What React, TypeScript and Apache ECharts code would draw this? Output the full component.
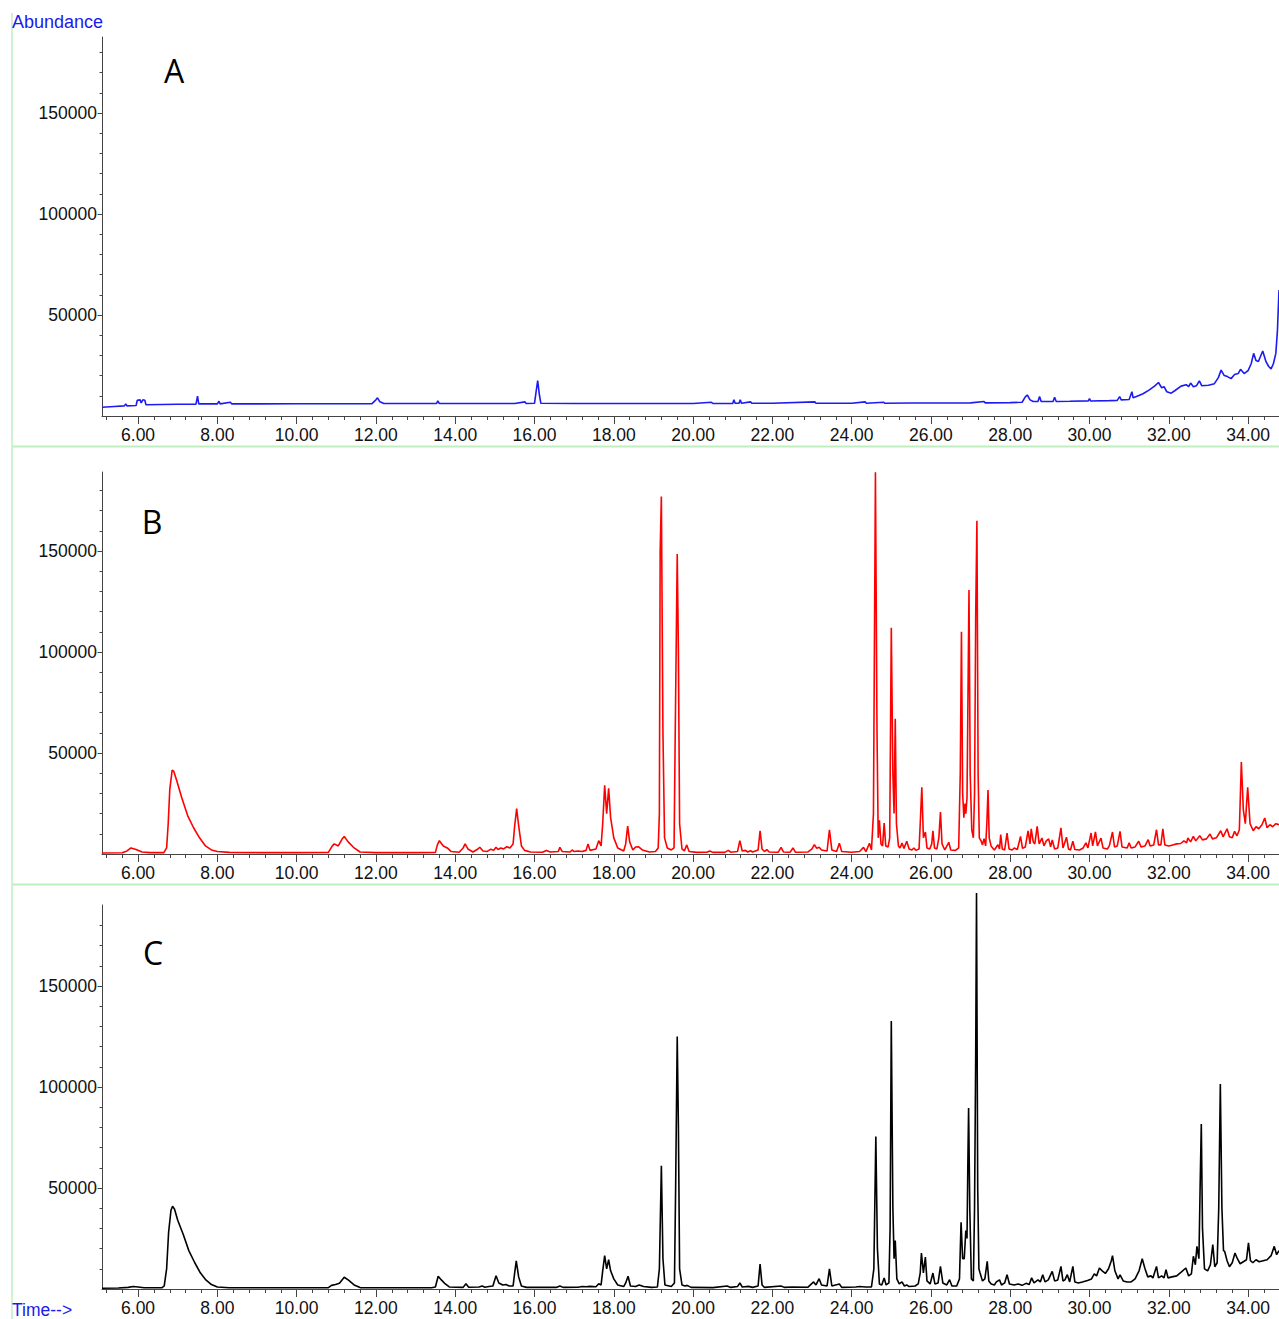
import React, { useEffect, useRef } from 'react';
import * as echarts from 'echarts';

// ---------- axis ticks / labels ----------
const xMin = 5.09;
const xMax = 34.78;
const xMajorTicks = [6, 8, 10, 12, 14, 16, 18, 20, 22, 24, 26, 28, 30, 32, 34];
const xMinorTicks = Array.from({ length: 74 }, (_, i) => Math.round((5.2 + i * 0.4) * 100) / 100).filter((v) => v <= 34.5);
const yMajorTicks = [50000, 100000, 150000];
const yMinorTicks = [10000, 20000, 30000, 40000, 50000, 60000, 70000, 80000, 90000, 100000, 110000, 120000, 130000, 140000, 150000, 160000, 170000, 180000];
const yMaxByPanel = [187600, 189100, 190100];
const panelLetters = ['A', 'B', 'C'];
const panelColors = ['#1c1cf2', '#ff0000', '#000000'];
const yTitle = 'Abundance';
const xTitle = 'Time-->';

// ---------- chromatogram A ----------
const traceA: [number, number][] = [
  [5.09, 4300], [5.4, 4700], [5.65, 5000], [5.69, 6000], [5.72, 5000], [5.95, 5200], [5.98, 7800], [6.05, 8000],
  [6.08, 6500], [6.12, 8000], [6.17, 7800], [6.2, 5600], [6.6, 5700], [7.0, 5800], [7.46, 5900], [7.5, 9800],
  [7.53, 6000], [8.0, 6000], [8.04, 7300], [8.07, 6000], [8.33, 6800], [8.36, 6000], [9.0, 6000], [10.0, 6100],
  [11.0, 6100], [11.9, 6100], [12.0, 8000], [12.04, 9000], [12.1, 7000], [12.2, 6200], [13.0, 6200], [13.53, 6200],
  [13.56, 7500], [13.6, 6200], [14.5, 6200], [15.5, 6200], [15.76, 7000], [15.79, 6200], [16.0, 6300], [16.04, 12000],
  [16.08, 17500], [16.12, 11000], [16.16, 6300], [17.0, 6200], [18.0, 6200], [19.0, 6200], [20.0, 6200], [20.46, 6800],
  [20.5, 6200], [21.0, 6200], [21.03, 8000], [21.06, 6300], [21.16, 6300], [21.19, 8000], [21.22, 6300], [21.45, 7000],
  [21.48, 6300], [22.0, 6300], [23.07, 7000], [23.1, 6300], [24.0, 6300], [24.34, 7000], [24.37, 6300], [24.81, 6800],
  [24.84, 6300], [25.5, 6400], [26.0, 6400], [27.0, 6500], [27.34, 7200], [27.37, 6500], [28.0, 6600], [28.3, 6800],
  [28.38, 9500], [28.43, 10400], [28.5, 8000], [28.58, 7200], [28.7, 7200], [28.74, 9700], [28.78, 7200], [29.08, 7200],
  [29.12, 9300], [29.16, 7200], [29.5, 7300], [29.97, 7500], [30.0, 8600], [30.03, 7400], [30.5, 7600], [30.7, 7700],
  [30.76, 9600], [30.8, 8000], [31.0, 8200], [31.07, 12000], [31.1, 9000], [31.2, 9800], [31.35, 11000], [31.5, 12800],
  [31.64, 14800], [31.74, 16600], [31.82, 14000], [31.88, 14500], [31.95, 12000], [32.06, 11300], [32.15, 12500],
  [32.31, 14800], [32.44, 15500], [32.5, 14500], [32.55, 16300], [32.62, 14500], [32.7, 15000], [32.77, 17400],
  [32.83, 15000], [33.0, 15200], [33.15, 16000], [33.25, 19000], [33.32, 22700], [33.4, 20000], [33.48, 19500],
  [33.57, 18500], [33.66, 20500], [33.75, 21000], [33.81, 23100], [33.9, 21000], [34.0, 22500], [34.08, 26000],
  [34.14, 31000], [34.2, 27500], [34.26, 27000], [34.37, 32200], [34.45, 27000], [34.52, 24500], [34.58, 23300],
  [34.64, 26000], [34.7, 31000], [34.74, 42000], [34.78, 62400],
];

// ---------- chromatogram B ----------
const traceB: [number, number][] = [
  [5.09, 500], [5.6, 600], [5.72, 1500], [5.82, 3000], [5.95, 2200], [6.1, 1000], [6.3, 700], [6.65, 700],
  [6.72, 3000], [6.76, 15000], [6.8, 32000], [6.86, 41500], [6.9, 41000], [6.98, 36000], [7.1, 28000], [7.25, 19000],
  [7.4, 13000], [7.55, 8000], [7.7, 4000], [7.85, 2000], [8.0, 1200], [8.3, 800], [9.0, 700], [10.0, 700],
  [10.8, 800], [10.9, 4000], [10.95, 5000], [11.05, 4000], [11.15, 7500], [11.2, 8700], [11.3, 6000], [11.45, 3000],
  [11.6, 1000], [12.0, 700], [13.0, 700], [13.5, 800], [13.55, 4500], [13.6, 6600], [13.7, 4000], [13.8, 3000],
  [13.9, 1200], [14.1, 900], [14.2, 3000], [14.25, 5000], [14.32, 2500], [14.45, 1000], [14.55, 2200], [14.62, 3300],
  [14.7, 1500], [14.8, 1200], [14.9, 2400], [14.97, 1800], [15.03, 3300], [15.08, 2200], [15.15, 3000], [15.22, 2500],
  [15.3, 3600], [15.38, 3000], [15.46, 5000], [15.5, 14000], [15.55, 22500], [15.6, 14000], [15.67, 4000], [15.75, 1800],
  [15.9, 1000], [16.2, 900], [16.3, 1700], [16.4, 1000], [16.6, 1200], [16.64, 3300], [16.7, 1200], [16.9, 1000],
  [16.95, 2000], [17.0, 1200], [17.1, 1500], [17.2, 1200], [17.3, 1800], [17.35, 5000], [17.4, 1800], [17.55, 2500],
  [17.62, 6600], [17.68, 4000], [17.72, 15000], [17.77, 34000], [17.82, 20000], [17.87, 32500], [17.92, 18000],
  [18.0, 8000], [18.1, 3000], [18.25, 1500], [18.3, 5000], [18.35, 13800], [18.4, 6000], [18.48, 2000], [18.55, 3500],
  [18.62, 3600], [18.72, 2000], [18.9, 1000], [19.05, 1200], [19.12, 3000], [19.15, 20000], [19.17, 150000],
  [19.2, 177000], [19.24, 60000], [19.28, 8000], [19.35, 3000], [19.45, 2000], [19.52, 3000], [19.55, 60000],
  [19.6, 148500], [19.63, 100000], [19.66, 15000], [19.72, 2500], [19.78, 1500], [19.84, 4500], [19.9, 1200],
  [20.1, 800], [20.35, 900], [20.42, 1500], [20.5, 800], [20.8, 800], [20.89, 1800], [20.95, 900], [21.12, 1200],
  [21.18, 6600], [21.24, 1500], [21.32, 1800], [21.38, 1000], [21.45, 1600], [21.5, 1000], [21.64, 2000], [21.69, 11500],
  [21.74, 2500], [21.8, 1200], [21.86, 2200], [21.92, 1000], [22.15, 900], [22.22, 3300], [22.28, 1000], [22.45, 900],
  [22.52, 3000], [22.58, 900], [22.9, 1000], [23.0, 2500], [23.06, 4600], [23.12, 2800], [23.18, 3300], [23.24, 2000],
  [23.38, 1500], [23.44, 12000], [23.5, 2000], [23.62, 1200], [23.69, 5300], [23.75, 1200], [24.0, 900], [24.2, 1200],
  [24.3, 3300], [24.36, 1200], [24.45, 5300], [24.5, 2000], [24.55, 20000], [24.6, 189000], [24.64, 60000],
  [24.67, 8000], [24.7, 16700], [24.74, 5000], [24.78, 4000], [24.82, 15300], [24.86, 4000], [24.92, 3500],
  [24.96, 8000], [25.0, 112000], [25.04, 40000], [25.07, 20000], [25.1, 67000], [25.13, 15000], [25.18, 4000],
  [25.22, 3000], [25.27, 5400], [25.32, 2800], [25.39, 6300], [25.45, 2500], [25.52, 2000], [25.57, 3000],
  [25.62, 1800], [25.7, 2500], [25.73, 15000], [25.77, 33000], [25.81, 8000], [25.86, 10900], [25.9, 3000],
  [25.97, 2500], [26.02, 5000], [26.05, 11500], [26.09, 3000], [26.15, 2500], [26.2, 8000], [26.24, 20800],
  [26.28, 5000], [26.35, 2000], [26.45, 5800], [26.5, 2000], [26.62, 1800], [26.7, 3000], [26.74, 40000],
  [26.77, 110000], [26.8, 30000], [26.83, 18000], [26.86, 25000], [26.88, 20000], [26.91, 28000], [26.94, 90000],
  [26.96, 130700], [26.99, 40000], [27.03, 12000], [27.07, 8000], [27.1, 30000], [27.13, 120000], [27.16, 165000],
  [27.19, 40000], [27.22, 8000], [27.27, 6300], [27.3, 4500], [27.34, 7600], [27.38, 4000], [27.41, 15000],
  [27.44, 31700], [27.47, 8000], [27.52, 3800], [27.6, 2000], [27.69, 4600], [27.73, 2500], [27.76, 9600],
  [27.8, 2500], [27.86, 2000], [27.92, 10400], [27.97, 2500], [28.05, 2000], [28.1, 3000], [28.18, 2200],
  [28.26, 8700], [28.31, 2800], [28.38, 3500], [28.45, 11500], [28.5, 5000], [28.53, 12500], [28.58, 6000],
  [28.62, 5000], [28.68, 13700], [28.73, 5000], [28.8, 7900], [28.85, 4000], [28.91, 6500], [28.97, 7500],
  [29.02, 3500], [29.06, 7000], [29.12, 2500], [29.2, 3000], [29.28, 12900], [29.33, 3000], [29.42, 8300],
  [29.47, 2500], [29.52, 2000], [29.58, 6300], [29.63, 2200], [29.75, 2000], [29.84, 3000], [29.91, 5500],
  [29.96, 3000], [30.04, 10400], [30.08, 4000], [30.15, 10900], [30.2, 4000], [30.29, 7900], [30.34, 3000],
  [30.45, 2500], [30.5, 4000], [30.58, 10900], [30.63, 3500], [30.7, 4000], [30.77, 11200], [30.82, 3500],
  [30.95, 3000], [31.0, 5500], [31.05, 3000], [31.15, 3500], [31.24, 6300], [31.3, 3500], [31.4, 4000],
  [31.48, 7100], [31.53, 4000], [31.62, 4500], [31.69, 12000], [31.74, 4500], [31.8, 4500], [31.85, 12500],
  [31.9, 4500], [32.0, 4000], [32.1, 4500], [32.2, 5000], [32.3, 5200], [32.38, 6500], [32.45, 5500], [32.48, 7900],
  [32.55, 6000], [32.62, 8700], [32.68, 6500], [32.78, 9000], [32.85, 7000], [32.95, 7500], [33.04, 9900],
  [33.1, 7500], [33.2, 8000], [33.31, 11500], [33.37, 8500], [33.47, 12500], [33.53, 8500], [33.6, 8000],
  [33.66, 11200], [33.72, 9000], [33.78, 12000], [33.83, 45500], [33.88, 22000], [33.93, 15000], [33.99, 33000],
  [34.05, 15000], [34.13, 11500], [34.2, 13500], [34.27, 12500], [34.35, 14500], [34.42, 17800], [34.48, 13000],
  [34.55, 14500], [34.62, 13500], [34.7, 15000], [34.78, 14500],
];

// ---------- chromatogram C ----------
const traceC: [number, number][] = [
  [5.09, 400], [5.5, 500], [5.75, 800], [5.88, 1200], [6.0, 1000], [6.15, 600], [6.6, 600], [6.66, 1500],
  [6.72, 10000], [6.77, 28000], [6.83, 39000], [6.87, 41000], [6.92, 39500], [7.0, 34000], [7.14, 27000],
  [7.28, 19000], [7.43, 13000], [7.57, 8000], [7.71, 4500], [7.85, 2200], [8.0, 1000], [8.3, 600], [10.0, 600],
  [10.8, 700], [10.88, 1800], [10.98, 2200], [11.08, 2800], [11.2, 5800], [11.3, 4500], [11.45, 2000], [11.6, 700],
  [13.4, 600], [13.5, 1000], [13.57, 6300], [13.65, 4500], [13.75, 2500], [13.85, 1000], [14.2, 800], [14.27, 2600],
  [14.34, 900], [14.6, 1000], [14.68, 1500], [14.75, 900], [14.85, 1200], [14.95, 1500], [15.03, 6600], [15.1, 3000],
  [15.2, 2000], [15.28, 2200], [15.36, 1500], [15.46, 1500], [15.5, 8000], [15.54, 13900], [15.6, 6000],
  [15.67, 1500], [15.8, 800], [16.55, 800], [16.64, 1500], [16.72, 800], [17.1, 900], [17.2, 1200], [17.3, 1100],
  [17.4, 1300], [17.55, 1100], [17.62, 2600], [17.68, 2000], [17.72, 9000], [17.77, 16500], [17.82, 10000],
  [17.87, 14500], [17.92, 9000], [18.0, 5000], [18.1, 2000], [18.25, 1200], [18.3, 3000], [18.36, 6300],
  [18.42, 1500], [18.55, 1200], [18.64, 2000], [18.75, 1200], [18.95, 800], [19.1, 1000], [19.15, 10000],
  [19.2, 61000], [19.24, 15000], [19.29, 2000], [19.45, 1200], [19.53, 3000], [19.56, 50000], [19.6, 125000],
  [19.63, 80000], [19.66, 10000], [19.72, 2000], [19.8, 1500], [19.85, 1800], [19.95, 800], [20.5, 700],
  [20.86, 1500], [20.95, 800], [21.12, 1200], [21.18, 3000], [21.24, 1000], [21.4, 1300], [21.5, 800],
  [21.64, 1500], [21.69, 12400], [21.74, 2000], [21.8, 800], [22.22, 1500], [22.3, 800], [22.52, 1000],
  [22.9, 900], [23.04, 3500], [23.1, 2000], [23.18, 5100], [23.24, 2000], [23.38, 1500], [23.44, 10000],
  [23.5, 1500], [23.69, 2500], [23.75, 800], [24.1, 1000], [24.2, 1200], [24.35, 1000], [24.5, 1000],
  [24.56, 10000], [24.61, 75500], [24.65, 20000], [24.7, 2500], [24.76, 2000], [24.82, 5400], [24.87, 2000],
  [24.94, 3000], [24.97, 30000], [25.0, 132700], [25.04, 40000], [25.07, 15000], [25.1, 24000], [25.14, 5000],
  [25.2, 2500], [25.27, 3500], [25.33, 1500], [25.39, 2000], [25.45, 1200], [25.6, 1500], [25.68, 2500],
  [25.73, 8000], [25.76, 17800], [25.81, 8000], [25.86, 15800], [25.9, 4000], [25.98, 2500], [26.05, 7900],
  [26.1, 2500], [26.18, 3000], [26.24, 11200], [26.3, 3000], [26.4, 2000], [26.47, 4600], [26.53, 1500],
  [26.65, 1500], [26.72, 5000], [26.76, 33000], [26.8, 15000], [26.84, 15000], [26.88, 29000], [26.91, 25000],
  [26.93, 60000], [26.95, 89600], [26.98, 40000], [27.02, 5000], [27.07, 4000], [27.1, 40000], [27.13, 118000],
  [27.15, 196000], [27.18, 50000], [27.21, 10000], [27.24, 7900], [27.3, 4000], [27.36, 5000], [27.42, 13700],
  [27.46, 4000], [27.52, 2500], [27.6, 2000], [27.65, 3500], [27.73, 4500], [27.78, 2000], [27.86, 3000],
  [27.92, 7100], [27.98, 2500], [28.1, 2000], [28.2, 2500], [28.3, 1800], [28.4, 2800], [28.48, 2200],
  [28.54, 5500], [28.6, 3000], [28.7, 4500], [28.76, 3500], [28.82, 7100], [28.88, 3500], [28.96, 4500],
  [29.06, 8700], [29.12, 4000], [29.2, 4500], [29.28, 11200], [29.33, 4000], [29.38, 4500], [29.44, 7100],
  [29.5, 3500], [29.58, 11200], [29.63, 3500], [29.72, 3000], [29.82, 3500], [29.95, 4200], [30.05, 5000],
  [30.12, 7500], [30.18, 6500], [30.25, 10400], [30.32, 9000], [30.4, 7700], [30.48, 10000], [30.55, 14000],
  [30.58, 16500], [30.64, 9000], [30.72, 5000], [30.77, 7000], [30.85, 4000], [30.95, 3500], [31.05, 3500],
  [31.15, 5000], [31.25, 9000], [31.33, 15000], [31.4, 10000], [31.47, 6000], [31.55, 6500], [31.6, 5500],
  [31.69, 11200], [31.74, 5500], [31.82, 6500], [31.88, 5500], [31.93, 9600], [31.98, 5500], [32.08, 6000],
  [32.2, 6500], [32.32, 8500], [32.43, 10400], [32.5, 6500], [32.57, 7500], [32.62, 16200], [32.67, 12000],
  [32.71, 21100], [32.76, 15000], [32.79, 50000], [32.82, 81700], [32.85, 30000], [32.9, 10000], [32.98, 9000],
  [33.05, 12000], [33.11, 22000], [33.16, 11000], [33.22, 13000], [33.26, 40000], [33.3, 101500], [33.34, 40000],
  [33.38, 19000], [33.41, 18600], [33.47, 14000], [33.53, 11000], [33.6, 13000], [33.67, 17800], [33.73, 15000],
  [33.8, 12500], [33.88, 13500], [33.96, 14500], [34.01, 22800], [34.06, 14000], [34.12, 13000], [34.2, 14500],
  [34.28, 13500], [34.38, 14000], [34.48, 14500], [34.58, 16500], [34.66, 21100], [34.72, 17000], [34.78, 19000],
];

const traces = [traceA, traceB, traceC];

// ---------- layout (pixels) ----------
const W = 1279;
const H = 1319;
const plotLeft = 102;
const zeroLinePx = [416, 854, 1289];
const pxPer50000 = 101;
const letterPos = [[174, 70], [152, 521], [153, 952]];
const FONT = "'Liberation Sans', Arial, Helvetica, sans-serif";
const AXIS_COLOR = '#444';
const LABEL_SIZE = 17.5;

function buildOption() {
  const grid: any[] = [];
  const xAxis: any[] = [];
  const yAxis: any[] = [];
  const series: any[] = [];
  traces.forEach((trace, i) => {
    const hgt = (yMaxByPanel[i] / 50000) * pxPer50000;
    grid.push({ left: plotLeft, top: zeroLinePx[i] - hgt, width: W - plotLeft, height: hgt, containLabel: false });
    const baseX = {
      type: 'value', gridIndex: i, min: xMin, max: xMax, position: 'bottom',
      splitLine: { show: false },
    };
    xAxis.push({
      ...baseX,
      axisLine: { show: true, onZero: false, lineStyle: { color: AXIS_COLOR, width: 1 } },
      axisTick: { show: true, length: 4, customValues: xMinorTicks, lineStyle: { color: AXIS_COLOR } },
      axisLabel: { show: false },
    });
    xAxis.push({
      ...baseX,
      axisLine: { show: false, onZero: false },
      axisTick: { show: true, length: 8, customValues: xMajorTicks, lineStyle: { color: AXIS_COLOR } },
      axisLabel: {
        show: true, customValues: xMajorTicks, margin: 10, fontSize: LABEL_SIZE, fontFamily: FONT, color: '#111',
        formatter: (v: number) => v.toFixed(2),
      },
    });
    const baseY = {
      type: 'value', gridIndex: i, min: 0, max: yMaxByPanel[i], position: 'left',
      splitLine: { show: false },
    };
    yAxis.push({
      ...baseY,
      axisLine: { show: true, onZero: false, lineStyle: { color: AXIS_COLOR, width: 1 } },
      axisTick: { show: true, length: 2.5, customValues: yMinorTicks, lineStyle: { color: AXIS_COLOR } },
      axisLabel: { show: false },
    });
    yAxis.push({
      ...baseY,
      axisLine: { show: false, onZero: false },
      axisTick: { show: true, length: 4.5, customValues: yMajorTicks, lineStyle: { color: AXIS_COLOR } },
      axisLabel: {
        show: true, customValues: yMajorTicks, margin: 5, fontSize: LABEL_SIZE, fontFamily: FONT, color: '#111',
        formatter: (v: number) => String(v),
      },
    });
    series.push({
      type: 'line', xAxisIndex: 2 * i, yAxisIndex: 2 * i, data: trace,
      showSymbol: false, symbol: 'none', clip: false, silent: true,
      lineStyle: { color: panelColors[i], width: 1.6 },
    });
  });

  const green = '#bfeebf';
  const graphic: any[] = [
    { type: 'line', z: 0, shape: { x1: 12, y1: 13, x2: 12, y2: H }, style: { stroke: green, lineWidth: 1.5 } },
    { type: 'line', z: 0, shape: { x1: 12, y1: 446.5, x2: W, y2: 446.5 }, style: { stroke: green, lineWidth: 2 } },
    { type: 'line', z: 0, shape: { x1: 12, y1: 884.5, x2: W, y2: 884.5 }, style: { stroke: green, lineWidth: 2 } },
    { type: 'text', x: 12, y: 22, style: { text: yTitle, fill: '#1a1aee', font: `18px ${FONT}`, verticalAlign: 'middle', align: 'left' } },
    { type: 'text', x: 12, y: 1310, style: { text: xTitle, fill: '#1a1aee', font: `17.5px ${FONT}`, verticalAlign: 'middle', align: 'left' } },
  ];
  panelLetters.forEach((l, i) => {
    graphic.push({
      type: 'text', x: letterPos[i][0], y: letterPos[i][1],
      style: { text: l, fill: '#000', font: `32px 'Open Sans', 'Liberation Sans', sans-serif`, align: 'center', verticalAlign: 'middle' },
    });
  });

  return { animation: false, backgroundColor: '#ffffff', grid, xAxis, yAxis, series, graphic };
}

export default function App() {
  const ref = useRef<HTMLDivElement>(null);
  useEffect(() => {
    if (!ref.current) return;
    const chart = echarts.init(ref.current, undefined, { renderer: 'svg', width: W, height: H });
    chart.setOption(buildOption() as any);
    return () => chart.dispose();
  }, []);
  return <div ref={ref} style={{ position: 'absolute', left: 0, top: 0, width: W, height: H, background: '#fff' }} />;
}
